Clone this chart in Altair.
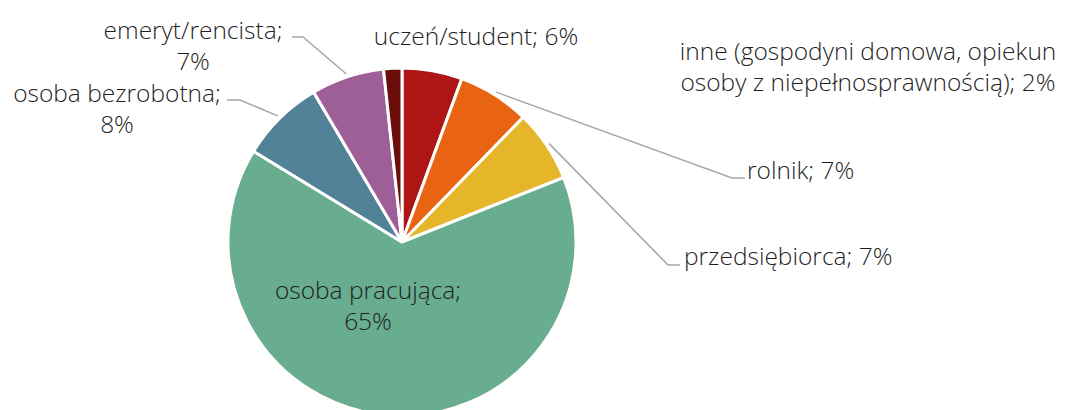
import math
import altair as alt
import pandas as pd

# ---- data ----
categories = ["uczeń/student", "rolnik", "przedsiębiorca", "osoba pracująca",
              "osoba bezrobotna", "emeryt/rencista",
              "inne (gospodyni domowa, opiekun osoby z niepełnosprawnością)"]
values = [5.6, 6.7, 6.7, 64.9, 7.8, 6.8, 1.7]
shown_pct = ["6%", "7%", "7%", "65%", "8%", "7%", "2%"]
label_text = [
    "uczeń/student; 6%",
    "rolnik; 7%",
    "przedsiębiorca; 7%",
    "osoba pracująca;\n65%",
    "osoba bezrobotna;\n8%",
    "emeryt/rencista;\n7%",
    "inne (gospodyni domowa, opiekun\nosoby z niepełnosprawnością); 2%",
]
colors = ["#AE1515", "#E86413", "#E5B62A", "#69AD90", "#528298", "#9E5E98", "#6B0D0B"]

# ---- layout (plot-area pixels) ----
CX, CY, R = 394, 234, 174
W, H = 1053, 402
# label anchor (x, y of first line, align)
label_layout = [
    (468, 30, "center"),
    (739, 164, "left"),
    (676, 250, "left"),
    (360, 284, "center"),
    (109, 87, "center"),
    (185, 24, "center"),
    (860, 45, "center"),
]
# leader elbows: index -> [(elbow), (end)]
leaders = {
    1: [(724, 170), (737, 170)],
    2: [(660, 257), (672, 257)],
    4: [(232, 92), (219, 92)],
    5: [(295, 29), (284, 29)],
}

df = pd.DataFrame({"cat": categories, "value": values, "idx": range(len(values))})

arcs = alt.Chart(df).mark_arc(outerRadius=R, stroke="white", strokeWidth=3).encode(
    theta=alt.Theta("value:Q", stack=True),
    order=alt.Order("idx:Q"),
    color=alt.Color("cat:N", scale=alt.Scale(domain=categories, range=colors), legend=None),
    x=alt.value(CX),
    y=alt.value(CY),
)

# leader lines: start on the middle angle of each slice
total = sum(values)
cum = 0.0
mids = []
for v in values:
    mids.append((cum + v / 2) / total * 2 * math.pi)
    cum += v
rows = []
for i, pts in leaders.items():
    a = mids[i]
    sx = CX + (R + 3) * math.sin(a)
    sy = CY - (R + 3) * math.cos(a)
    allpts = [(sx, sy)] + pts
    for k, (px, py) in enumerate(allpts):
        rows.append({"seg": categories[i], "k": k, "px": px, "py": py})
ldf = pd.DataFrame(rows)
lines = alt.Chart(ldf).mark_line(color="#A6A6A6", strokeWidth=1.5).encode(
    x=alt.X("px:Q", scale=None, axis=None),
    y=alt.Y("py:Q", scale=None, axis=None),
    detail="seg:N",
    order="k:Q",
)

tdf = pd.DataFrame({
    "txt": label_text,
    "lx": [p[0] for p in label_layout],
    "ly": [p[1] for p in label_layout],
    "al": [p[2] for p in label_layout],
})
text_layers = []
for al in ["left", "center"]:
    t = alt.Chart(tdf).transform_filter(alt.datum.al == al).mark_text(
        align=al, baseline="middle", font="Open Sans", fontSize=24.5, fontWeight=300,
        color="#1F1F1F", lineBreak="\n", lineHeight=31,
    ).encode(
        x=alt.X("lx:Q", scale=None, axis=None),
        y=alt.Y("ly:Q", scale=None, axis=None),
        text="txt:N",
    )
    text_layers.append(t)

chart = alt.layer(arcs, lines, *text_layers).properties(
    width=W, height=H, padding=0, autosize="none"
).configure_view(stroke=None)

chart.save("out.html", embed_options={"renderer": "svg", "actions": False})
